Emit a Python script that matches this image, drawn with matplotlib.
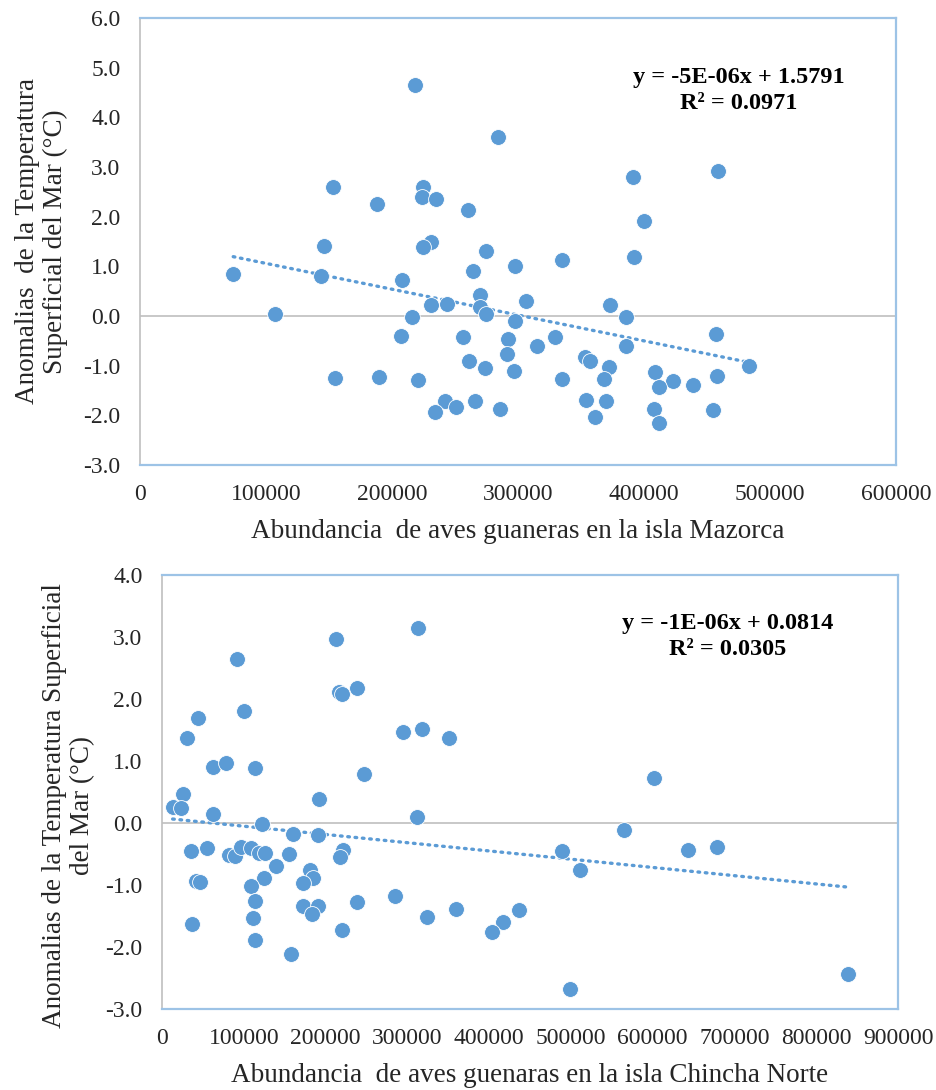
import numpy as np
import matplotlib
matplotlib.use('Agg')
import matplotlib.pyplot as plt

# abundancia de aves vs anomalias de TSM, isla Mazorca
mazorca_x = [218000, 284000, 153000, 225000, 224000, 235000, 188000, 260000,
             146000, 231000, 225000, 275000, 298000, 264000, 74000, 144000,
             208000, 270000, 306000, 231000, 244000, 270000, 275000, 107000,
             216000, 298000, 207000, 256000, 292000, 315000, 291000, 261000,
             274000, 297000, 155000, 190000, 221000, 242000, 251000, 234000,
             266000, 286000, 459000, 391000, 400000, 392000, 335000, 373000,
             386000, 457000, 329000, 386000, 353000, 357000, 372000, 483000,
             335000, 368000, 409000, 423000, 412000, 439000, 458000, 354000,
             370000, 361000, 408000, 412000, 455000]
mazorca_y = [4.65, 3.60, 2.60, 2.59, 2.40, 2.35, 2.25, 2.13,
             1.41, 1.49, 1.39, 1.31, 1.01, 0.91, 0.85, 0.80,
             0.72, 0.42, 0.30, 0.22, 0.24, 0.18, 0.04, 0.04,
             -0.02, -0.10, -0.40, -0.42, -0.46, -0.60, -0.76, -0.90,
             -1.05, -1.10, -1.24, -1.22, -1.29, -1.71, -1.83, -1.93,
             -1.71, -1.87, 2.92, 2.80, 1.91, 1.19, 1.13, 0.22,
             -0.02, -0.36, -0.42, -0.60, -0.82, -0.90, -1.02, -1.00,
             -1.26, -1.26, -1.13, -1.30, -1.43, -1.38, -1.21, -1.69,
             -1.71, -2.03, -1.87, -2.15, -1.89]

# isla Chincha Norte
chincha_x = [313000, 213000, 92000, 216000, 220000, 238000, 100000, 44000,
             31000, 295000, 318000, 351000, 62000, 78000, 114000, 247000,
             26000, 192000, 13000, 23000, 62000, 312000, 122000, 160000,
             191000, 36000, 55000, 82000, 89000, 96000, 109000, 119000,
             126000, 155000, 221000, 218000, 139000, 181000, 185000, 173000,
             125000, 42000, 47000, 109000, 114000, 173000, 191000, 183000,
             238000, 285000, 324000, 360000, 37000, 111000, 220000, 114000,
             158000, 601000, 565000, 489000, 643000, 679000, 511000, 436000,
             417000, 403000, 499000, 839000]
chincha_y = [3.14, 2.97, 2.65, 2.12, 2.08, 2.17, 1.80, 1.70,
             1.37, 1.47, 1.51, 1.37, 0.91, 0.97, 0.89, 0.79,
             0.46, 0.38, 0.26, 0.24, 0.15, 0.09, -0.02, -0.18,
             -0.20, -0.45, -0.41, -0.52, -0.53, -0.39, -0.40, -0.48,
             -0.48, -0.50, -0.44, -0.55, -0.70, -0.75, -0.89, -0.97,
             -0.89, -0.93, -0.95, -1.01, -1.26, -1.34, -1.34, -1.47,
             -1.27, -1.17, -1.51, -1.38, -1.63, -1.54, -1.73, -1.88,
             -2.11, 0.73, -0.12, -0.45, -0.44, -0.39, -0.76, -1.40,
             -1.59, -1.76, -2.67, -2.44]

# coeficientes de la linea de tendencia (pendiente, intercepto, R2)
trend_mazorca = (-5.2e-06, 1.5791, 0.0971)
trend_chincha = (-1.33e-06, 0.0814, 0.0305)

blue = '#5B9BD5'
border = '#9DC3E6'
grey = '#BFBFBF'
plt.rcParams['font.family'] = ['Liberation Serif']

fig = plt.figure(figsize=(9.37, 10.9), dpi=100, facecolor='white')
ax1 = fig.add_axes([0.1494, 0.5734, 0.8068, 0.4101])
ax2 = fig.add_axes([0.1729, 0.0743, 0.7855, 0.3982])


def draw_panel(ax, xs, ys, trend, xmax, ymin, ymax, xlabel, ylabel, ylab_pos, eq_pos):
    slope, icpt, r2 = trend
    ax.axhline(0, color=grey, lw=1.2, zorder=1)
    ax.scatter(xs, ys, s=130, color=blue, edgecolors='white', linewidths=0.6, zorder=3)
    tx = np.array([min(xs), max(xs)])
    ax.plot(tx, slope * tx + icpt, color=blue, lw=2.4, ls=(0, (0.5, 1.7)),
            dash_capstyle='round', zorder=2)
    ax.set_xlim(0, xmax)
    ax.set_ylim(ymin, ymax)
    ax.set_xticks(np.arange(0, xmax + 1, 100000))
    ax.set_xticklabels(['%d' % v for v in np.arange(0, xmax + 1, 100000)])
    ax.set_yticks(np.arange(ymin, ymax + 0.1, 1.0))
    ax.set_yticklabels(['%.1f' % v for v in np.arange(ymin, ymax + 0.1, 1.0)])
    ax.tick_params(length=0, labelsize=17, colors='#262626', pad=14)
    for side in ['top', 'right', 'bottom']:
        ax.spines[side].set_color(border)
        ax.spines[side].set_linewidth(1.6)
    ax.spines['left'].set_color(grey)
    ax.spines['left'].set_linewidth(1.2)
    ax.set_xlabel(xlabel, fontsize=19.5, color='#262626', labelpad=10)
    ax.text(ylab_pos[0], ylab_pos[1], ylabel, rotation=90, ha='center', va='center',
            multialignment='center', fontsize=19.5, color='#262626', linespacing=1.15,
            transform=ax.transAxes)
    eq = 'y = %sx + %.4f\nR² = %.4f' % ('{:.0E}'.format(slope), icpt, r2)
    ax.text(eq_pos[0], eq_pos[1], eq, ha='center', va='center', fontsize=17.5,
            fontweight='bold', linespacing=1.3, transform=ax.transAxes)


draw_panel(ax1, mazorca_x, mazorca_y, trend_mazorca, 600000, -3.0, 6.0,
           'Abundancia  de aves guaneras en la isla Mazorca',
           'Anomalias  de la Temperatura\nSuperficial del Mar (°C)',
           (-0.130, 0.5), (0.792, 0.837))
draw_panel(ax2, chincha_x, chincha_y, trend_chincha, 900000, -3.0, 4.0,
           'Abundancia  de aves guenaras en la isla Chincha Norte',
           'Anomalias de la Temperatura Superficial\ndel Mar (°C)',
           (-0.127, 0.468), (0.768, 0.858))

fig.savefig('out.png', dpi=100, facecolor='white')
